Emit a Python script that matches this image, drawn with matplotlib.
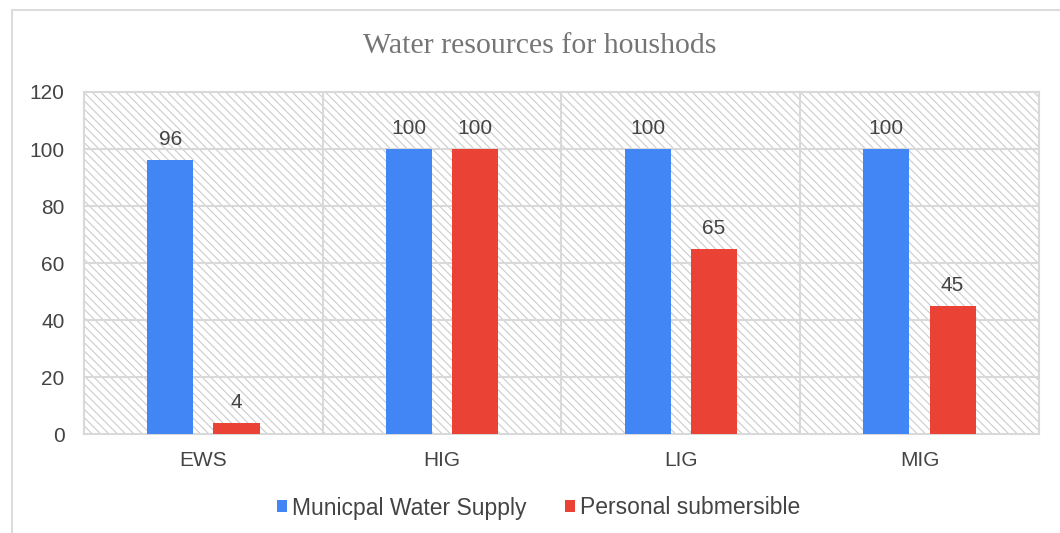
import numpy as np
import matplotlib.pyplot as plt
from matplotlib.patches import Rectangle

categories = ['EWS', 'HIG', 'LIG', 'MIG']
municipal = [96, 100, 100, 100]
submersible = [4, 100, 65, 45]
series_names = ['Municpal Water Supply', 'Personal submersible']
y_ticks = [0, 20, 40, 60, 80, 100, 120]

blue = '#4285F4'
red = '#EA4335'
text_col = '#444444'
grid_col = '#d9d9d9'

plt.rcParams['font.family'] = ['Liberation Sans', 'DejaVu Sans']
plt.rcParams['hatch.linewidth'] = 0.8
plt.rcParams['hatch.color'] = '#cccccc'

fig = plt.figure(figsize=(10.6, 5.33), dpi=100)
ax = fig.add_axes([0.0792, 0.1857, 0.9008, 0.6417])

# outer chart frame
fig.patches.append(Rectangle((12 / 1060, -0.1), 1.2, 1 - 10 / 533 + 0.1,
                             transform=fig.transFigure, fill=False,
                             edgecolor='#dcdcdc', linewidth=1.5))

x = np.arange(len(categories))
off = 0.139
w = 0.193

# hatched background
ax.add_patch(Rectangle((0, 0), 1, 1, transform=ax.transAxes, facecolor='white',
                       hatch='\\\\\\\\', edgecolor='#cccccc', linewidth=0, zorder=0))

b1 = ax.bar(x - off, municipal, w, color=blue, zorder=3, label=series_names[0])
b2 = ax.bar(x + off, submersible, w, color=red, zorder=3, label=series_names[1])

for bars, vals in ((b1, municipal), (b2, submersible)):
    for r, v in zip(bars, vals):
        ax.annotate(str(v), (r.get_x() + r.get_width() / 2, v), xytext=(0, 8),
                    textcoords='offset points', ha='center', va='bottom',
                    fontsize=15, color=text_col)

ax.set_xlim(-0.5, len(categories) - 0.5)
ax.set_ylim(0, 120)
ax.set_yticks(y_ticks)
ax.set_xticks(x)
ax.set_xticklabels(categories)
ax.tick_params(axis='both', length=0, labelsize=15, labelcolor=text_col)
ax.tick_params(axis='x', pad=12)
ax.tick_params(axis='y', pad=14)

for yv in y_ticks[1:-1]:
    ax.axhline(yv, color=grid_col, linewidth=1.5, zorder=1)
for xv in x[:-1] + 0.5:
    ax.axvline(xv, color=grid_col, linewidth=1.5, zorder=1)
for s in ax.spines.values():
    s.set_color(grid_col)
    s.set_linewidth(1.5)

fig.text(0.509, 1 - 46 / 533, 'Water resources for houshods', ha='center', va='center',
         fontsize=21.5, color='#757575', family=['Liberation Serif', 'DejaVu Serif'])

fig.legend(loc='center', bbox_to_anchor=(0.508, 1 - 508 / 533), ncol=2, frameon=False,
           fontsize=16.5, labelcolor=text_col, handlelength=0.45, handleheight=0.45,
           handletextpad=0.2, columnspacing=1.7)

fig.savefig('out.png', dpi=100)
